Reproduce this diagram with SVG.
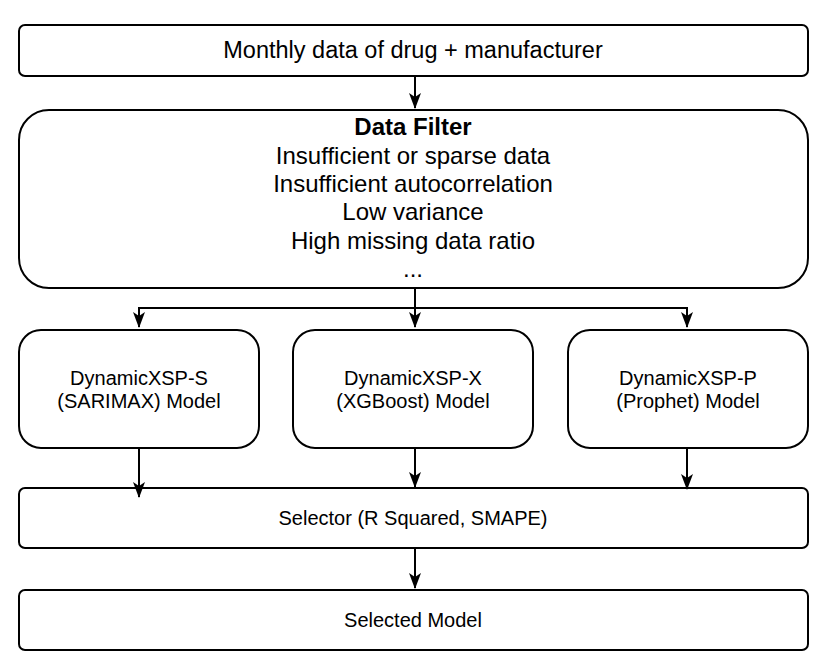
<svg xmlns="http://www.w3.org/2000/svg" width="828" height="670" viewBox="0 0 828 670">
<defs>
<style>
.box{fill:#fff;stroke:#000;stroke-width:2}
.t{font-family:"Liberation Sans",Arial,Helvetica,sans-serif;fill:#000;text-anchor:middle}
.big{font-size:24px}
.top{font-size:23.5px}
.mid{font-size:20px}
.sm{font-size:20px}
.edge{fill:none;stroke:#000;stroke-width:2}
</style>
<marker id="ah" viewBox="0 0 16 12" refX="15" refY="6" markerWidth="16" markerHeight="12" markerUnits="userSpaceOnUse" orient="auto">
<path d="M0,0 L16,6 L0,12 L4,6 Z" fill="#000"/>
</marker>
</defs>
<rect width="828" height="670" fill="#fff"/>
<g id="input">
<rect class="box" x="19" y="25" width="789" height="51" rx="6"/>
<text class="t top" x="413" y="58">Monthly data of drug + manufacturer</text>
</g>
<g id="filter">
<rect class="box" x="19" y="110" width="789" height="178" rx="30"/>
<text class="t big" x="413" y="135" font-weight="bold">Data Filter</text>
<text class="t big" x="413" y="164">Insufficient or sparse data</text>
<text class="t big" x="413" y="192">Insufficient autocorrelation</text>
<text class="t big" x="413" y="220">Low variance</text>
<text class="t big" x="413" y="249">High missing data ratio</text>
<text class="t big" x="413" y="277">...</text>
</g>
<g id="model-s">
<rect class="box" x="19" y="330" width="240" height="118" rx="22"/>
<text class="t mid" x="139" y="385">DynamicXSP-S</text>
<text class="t mid" x="139" y="408">(SARIMAX) Model</text>
</g>
<g id="model-x">
<rect class="box" x="293" y="330" width="240" height="118" rx="22"/>
<text class="t mid" x="413" y="385">DynamicXSP-X</text>
<text class="t mid" x="413" y="408">(XGBoost) Model</text>
</g>
<g id="model-p">
<rect class="box" x="568" y="330" width="240" height="118" rx="22"/>
<text class="t mid" x="688" y="385">DynamicXSP-P</text>
<text class="t mid" x="688" y="408">(Prophet) Model</text>
</g>
<g id="selector">
<rect class="box" x="19" y="488" width="789" height="60" rx="6"/>
<text class="t sm" x="413" y="525">Selector (R Squared, SMAPE)</text>
</g>
<g id="selected">
<rect class="box" x="19" y="590" width="789" height="60" rx="6"/>
<text class="t sm" x="413" y="627">Selected Model</text>
</g>
<g id="connectors">
<path class="edge" d="M415,76 V108" marker-end="url(#ah)"/>
<path class="edge" d="M415,288 V308 H139 V327" marker-end="url(#ah)"/>
<path class="edge" d="M415,308 V327" marker-end="url(#ah)"/>
<path class="edge" d="M415,308 H687 V327" marker-end="url(#ah)"/>
<path class="edge" d="M139,448 V497" marker-end="url(#ah)"/>
<path class="edge" d="M415,448 V487" marker-end="url(#ah)"/>
<path class="edge" d="M687,448 V489" marker-end="url(#ah)"/>
<path class="edge" d="M415,548 V588" marker-end="url(#ah)"/>
</g>
</svg>
